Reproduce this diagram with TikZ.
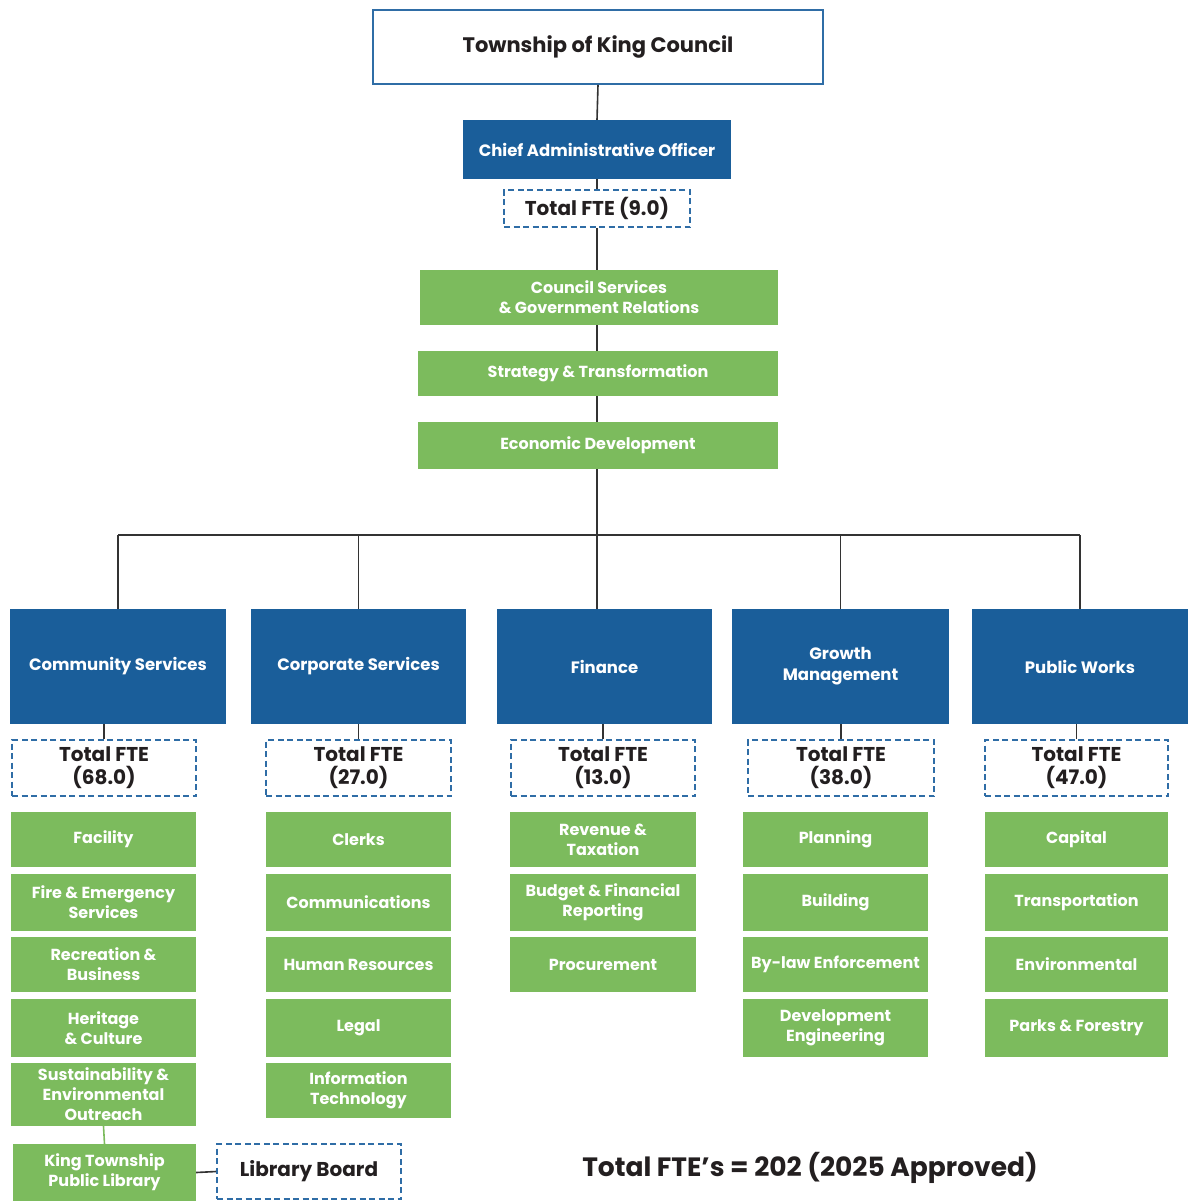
\documentclass[tikz,border=0pt]{standalone}
\usepackage{fontspec}
\setmainfont{Poppins}
\definecolor{cblue}{HTML}{1A5E9A}
\definecolor{cgreen}{HTML}{7CBB5D}
\definecolor{cdash}{HTML}{2F6DA6}
\definecolor{cline}{HTML}{333333}
\definecolor{ctext}{HTML}{231F20}
\begin{document}
\begin{tikzpicture}[x=1pt,y=-1pt,
  sz/.style 2 args={minimum width=#1pt, minimum height=#2pt},
  bluebox/.style={fill=cblue, text=white, align=center, inner sep=0pt,
     font=\bfseries\fontsize{16.5}{21}\selectfont},
  greenbox/.style={fill=cgreen, text=white, align=center, inner sep=0pt,
     font=\bfseries\fontsize{16}{20}\selectfont},
  ftebox/.style={draw=cdash, line width=1.6pt, dash pattern=on 6pt off 3.5pt,
     fill=white, text=ctext, align=center, inner sep=0pt,
     font=\bfseries\fontsize{20}{23}\selectfont},
  conn/.style={draw=cline, line width=1.6pt}]
\useasboundingbox (0,0) rectangle (1188,1201);

% top
\node[draw=cdash, line width=1.6pt, fill=white, text=ctext, sz={450}{74},
  font=\bfseries\fontsize{21}{24}\selectfont] (council) at (598,47) {Township of King Council};
\node[bluebox, sz={268}{59}] (cao) at (597,149.5) {Chief Administrative Officer};
\node[ftebox, sz={186}{37}] (fte0) at (597,208.5) {Total FTE (9.0)};
\node[greenbox, sz={358}{55}] (csgr) at (599,297.5) {Council Services\\\& Government Relations};
\node[greenbox, sz={360}{45}] (strat) at (598,373.5) {Strategy \& Transformation};
\node[greenbox, sz={360}{47}] (econ) at (598,445.5) {Economic Development};

% departments
\node[bluebox, sz={216}{115}] (cs) at (118,666.5) {Community Services};
\node[bluebox, sz={215}{115}] (corp) at (358.5,666.5) {Corporate Services};
\node[bluebox, sz={215}{115}] (fin) at (604.5,666.5) {Finance};
\node[bluebox, sz={217}{115}] (gm) at (840.5,666.5) {Growth\\Management};
\node[bluebox, sz={216}{115}] (pw) at (1080,666.5) {Public Works};

% FTE boxes
\node[ftebox, sz={184}{56}] (fteA) at (104,768) {Total FTE\\(68.0)};
\node[ftebox, sz={185}{56}] (fteB) at (358.5,768) {Total FTE\\(27.0)};
\node[ftebox, sz={184}{56}] (fteC) at (603,768) {Total FTE\\(13.0)};
\node[ftebox, sz={186}{56}] (fteD) at (841,768) {Total FTE\\(38.0)};
\node[ftebox, sz={183}{56}] (fteE) at (1076.5,768) {Total FTE\\(47.0)};

% Community column
\node[greenbox, sz={185}{55}] (a1) at (103.5,839.5) {Facility};
\node[greenbox, sz={185}{57}] (a2) at (103.5,902.5) {Fire \& Emergency\\Services};
\node[greenbox, sz={185}{55}] (a3) at (103.5,964.5) {Recreation \&\\Business};
\node[greenbox, sz={185}{58}] (a4) at (103.5,1028) {Heritage\\\& Culture};
\node[greenbox, sz={185}{63}] (a5) at (103.5,1094.5) {Sustainability \&\\Environmental\\Outreach};
\node[greenbox, sz={183}{57}] (a6) at (104.5,1172.5) {King Township\\Public Library};
\node[ftebox, sz={184}{55}] (lib) at (309,1171.5) {Library Board};

% Corporate column
\node[greenbox, sz={185}{55}] (b1) at (358.5,839.5) {Clerks};
\node[greenbox, sz={185}{57}] (b2) at (358.5,902.5) {Communications};
\node[greenbox, sz={185}{55}] (b3) at (358.5,964.5) {Human Resources};
\node[greenbox, sz={185}{58}] (b4) at (358.5,1028) {Legal};
\node[greenbox, sz={185}{55}] (b5) at (358.5,1090.5) {Information\\Technology};

% Finance column
\node[greenbox, sz={186}{55}] (c1) at (603,839.5) {Revenue \&\\Taxation};
\node[greenbox, sz={186}{57}] (c2) at (603,902.5) {Budget \& Financial\\Reporting};
\node[greenbox, sz={186}{55}] (c3) at (603,964.5) {Procurement};

% Growth column
\node[greenbox, sz={185}{55}] (d1) at (835.5,839.5) {Planning};
\node[greenbox, sz={185}{57}] (d2) at (835.5,902.5) {Building};
\node[greenbox, sz={185}{55}] (d3) at (835.5,964.5) {By-law Enforcement};
\node[greenbox, sz={185}{58}] (d4) at (835.5,1028) {Development\\Engineering};

% Public Works column
\node[greenbox, sz={183}{55}] (e1) at (1076.5,839.5) {Capital};
\node[greenbox, sz={183}{57}] (e2) at (1076.5,902.5) {Transportation};
\node[greenbox, sz={183}{55}] (e3) at (1076.5,964.5) {Environmental};
\node[greenbox, sz={183}{58}] (e4) at (1076.5,1028) {Parks \& Forestry};

\node[text=ctext, font=\bfseries\fontsize{26.5}{30}\selectfont] (total) at (810,1168)
  {Total FTE’s = 202 (2025 Approved)};

% connectors
\coordinate (bus) at (597,535);
\draw[conn] (council.south) -- (cao.north);
\draw[conn] (cao.south) -- (fte0.north);
\draw[conn] (fte0.south) -- (csgr.north -| fte0.south);
\draw[conn] (csgr.south -| fte0.south) -- (strat.north -| fte0.south);
\draw[conn] (strat.south -| fte0.south) -- (econ.north -| fte0.south);
\draw[conn] (econ.south -| bus) -- (bus);
\draw[conn] (cs.north |- bus) -- (pw.north |- bus);
\draw[conn] (cs.north |- bus) -- (cs.north);
\draw[conn] (corp.north |- bus) -- (corp.north);
\draw[conn] (bus) -- (fin.north -| bus);
\draw[conn] (gm.north |- bus) -- (gm.north);
\draw[conn] (pw.north |- bus) -- (pw.north);
\draw[conn] (fteA.north |- cs.south) -- (fteA.north);
\draw[conn] (fteB.north |- corp.south) -- (fteB.north);
\draw[conn] (fteC.north |- fin.south) -- (fteC.north);
\draw[conn] (fteD.north |- gm.south) -- (fteD.north);
\draw[conn] (fteE.north |- pw.south) -- (fteE.north);
\draw[draw=cgreen, line width=1.6pt] (a5.south) -- (a6.north);
\draw[conn] (a6.east) -- (lib.west);
\end{tikzpicture}
\end{document}
